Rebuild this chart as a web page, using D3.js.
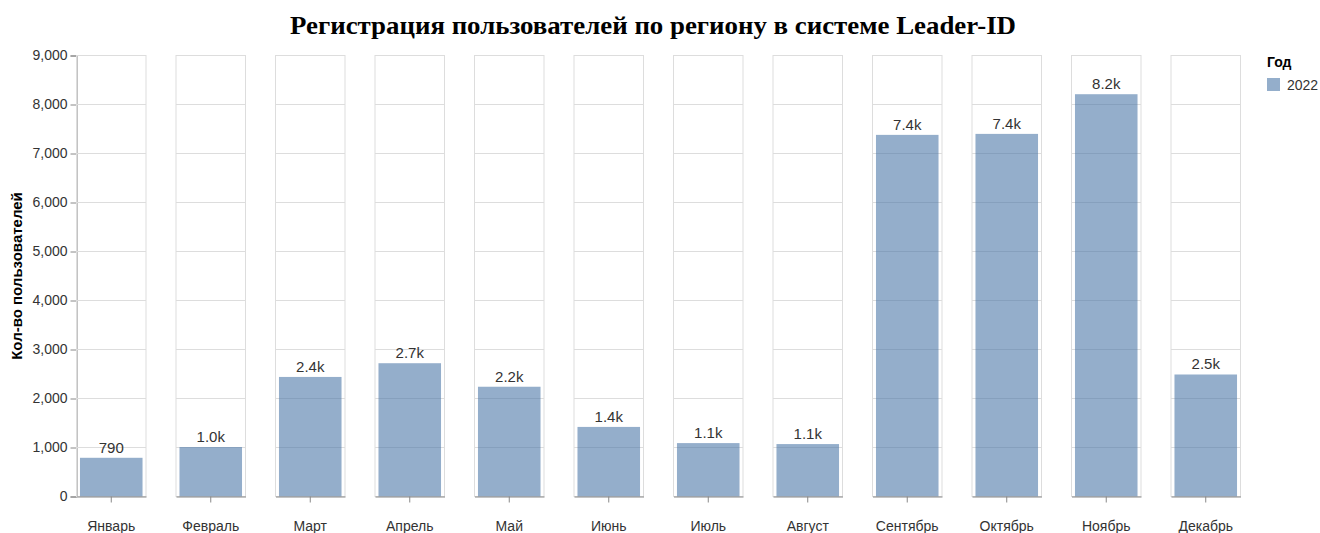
<!DOCTYPE html>
<html>
<head>
<meta charset="utf-8">
<script src="https://cdn.jsdelivr.net/npm/d3@7"></script>
<style>
  body { margin: 0; background: #fff; }
  text { font-family: "Liberation Sans", Arial, sans-serif; }
</style>
</head>
<body>
<div id="grafica"></div>
<script>
// Datos del grafico
var meses = ["Январь", "Февраль", "Март", "Апрель", "Май", "Июнь",
             "Июль", "Август", "Сентябрь", "Октябрь", "Ноябрь", "Декабрь"];
var anios = ["2022"];
var usuarios2022 = [790, 1010, 2440, 2720, 2240, 1420, 1090, 1070, 7380, 7400, 8210, 2490];
var ticksY = [0, 1000, 2000, 3000, 4000, 5000, 6000, 7000, 8000, 9000];

var ancho = 1320, alto = 533;
var color = "#4c78a8";

var svg = d3.select("#grafica")
    .append("svg")
    .attr("width", ancho)
    .attr("height", alto);

// titulo
svg.append("text")
    .attr("x", 653)
    .attr("y", 34)
    .attr("text-anchor", "middle")
    .style("font-family", "'Liberation Serif', 'Times New Roman', serif")
    .style("font-weight", "bold")
    .style("font-size", "26px")
    .attr("textLength", 726)
    .attr("lengthAdjust", "spacingAndGlyphs")
    .attr("fill", "#000")
    .text("Регистрация пользователей по региону в системе Leader-ID");

// escalas
var faceta = d3.scaleBand()
    .domain(meses)
    .range([76.5, 1240.5])
    .paddingInner(0.3015)
    .paddingOuter(0);

var x = d3.scaleBand()
    .domain(anios)
    .range([0, faceta.bandwidth()])
    .paddingInner(0.1)
    .paddingOuter(0.05);

var y = d3.scaleLinear()
    .domain([0, 9000])
    .range([496.5, 55.5]);

var fmt = function(v) {
    return v < 1000 ? d3.format("d")(v) : d3.format(".1f")(v / 1000) + "k";
};

// eje Y (solo a la izquierda)
var ejeY = svg.append("g")
    .attr("transform", "translate(76.5,0)")
    .call(d3.axisLeft(y).tickValues(ticksY).tickFormat(d3.format(",")).tickSize(6).tickPadding(3));
ejeY.select(".domain").attr("stroke", "#888");
ejeY.selectAll(".tick line").attr("stroke", "#888");
ejeY.selectAll(".tick text")
    .attr("fill", "#333")
    .style("font-size", "14px");

svg.append("text")
    .attr("transform", "translate(22," + ((y(0) + y(9000)) / 2) + ") rotate(-90)")
    .attr("text-anchor", "middle")
    .style("font-size", "15px")
    .style("font-weight", "bold")
    .attr("fill", "#000")
    .text("Кол-во пользователей");

// una celda por mes
var celdas = svg.selectAll(".celda")
    .data(meses)
    .enter()
    .append("g")
    .attr("class", "celda")
    .attr("transform", function(d) { return "translate(" + faceta(d) + ",0)"; });

celdas.each(function(mes, i) {
    var g = d3.select(this);
    var w = faceta.bandwidth();

    // cuadricula
    g.selectAll(".grid")
        .data(ticksY)
        .enter()
        .append("line")
        .attr("x1", 0).attr("x2", w)
        .attr("y1", function(d) { return y(d); })
        .attr("y2", function(d) { return y(d); })
        .attr("stroke", "#ddd");

    g.append("rect")
        .attr("x", 0).attr("y", y(9000))
        .attr("width", w).attr("height", y(0) - y(9000))
        .attr("fill", "none")
        .attr("stroke", "#ddd");

    // barra
    var valor = usuarios2022[i];
    g.append("rect")
        .attr("x", x("2022"))
        .attr("y", y(valor))
        .attr("width", x.bandwidth())
        .attr("height", y(0) - y(valor))
        .attr("fill", color)
        .attr("fill-opacity", 0.6);

    g.append("text")
        .attr("x", x("2022") + x.bandwidth() / 2)
        .attr("y", y(valor) - 5)
        .attr("text-anchor", "middle")
        .style("font-size", "15px")
        .attr("fill", "#333")
        .text(fmt(valor));

    // eje X de la celda
    var ejeX = g.append("g")
        .attr("transform", "translate(0," + y(0) + ")")
        .call(d3.axisBottom(x).tickSize(6).tickSizeOuter(0).tickFormat(function() { return ""; }));
    ejeX.select(".domain").attr("stroke", "#888");
    ejeX.selectAll(".tick line").attr("stroke", "#888");

    g.append("text")
        .attr("x", w / 2)
        .attr("y", 531)
        .attr("text-anchor", "middle")
        .style("font-size", "14px")
        .attr("fill", "#333")
        .text(mes);
});

// leyenda
var leyenda = svg.append("g").attr("transform", "translate(1267,0)");
leyenda.append("text")
    .attr("x", 0).attr("y", 67)
    .style("font-size", "14px")
    .style("font-weight", "bold")
    .attr("fill", "#000")
    .text("Год");
leyenda.selectAll(".item")
    .data(anios)
    .enter()
    .append("g")
    .each(function(d) {
        var it = d3.select(this);
        it.append("rect")
            .attr("x", 0).attr("y", 78)
            .attr("width", 13).attr("height", 13)
            .attr("fill", color)
            .attr("fill-opacity", 0.6);
        it.append("text")
            .attr("x", 20).attr("y", 90)
            .style("font-size", "14px")
            .attr("fill", "#333")
            .text(d);
    });
</script>
</body>
</html>
